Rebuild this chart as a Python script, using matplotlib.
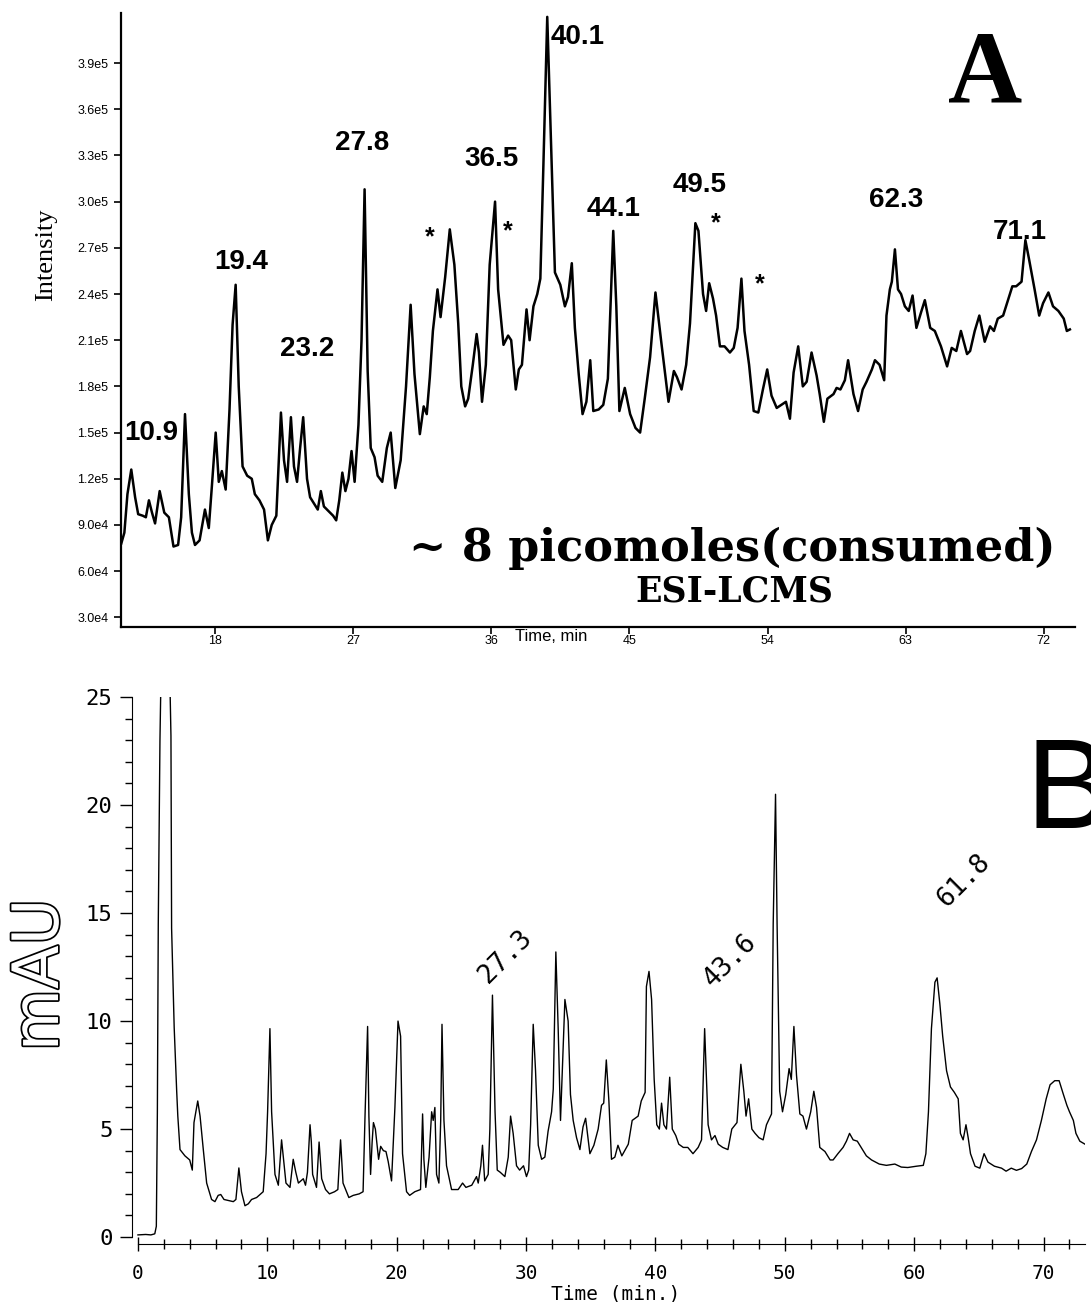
import matplotlib.pyplot as plt
import matplotlib.patheffects as pe
from matplotlib.ticker import MultipleLocator

# --- A: ESI-LCMS total ion current ---
a_time = [11.9, 12.1, 12.3, 12.55, 12.8, 13.0, 13.3, 13.5, 13.7, 13.9, 14.1, 14.4, 14.7, 15.0,
          15.3, 15.6, 15.8, 16.05, 16.3, 16.5, 16.7, 17.0, 17.35, 17.6, 17.8, 18.05, 18.25, 18.45,
          18.7, 18.95, 19.15, 19.35, 19.55, 19.8, 20.1, 20.4, 20.6, 20.9, 21.2, 21.45, 21.7, 22.0,
          22.3, 22.5, 22.7, 22.95, 23.15, 23.35, 23.55, 23.75, 24.0, 24.2, 24.45, 24.7, 24.9, 25.1,
          25.4, 25.7, 25.9, 26.1, 26.3, 26.5, 26.7, 26.9, 27.1, 27.35, 27.55, 27.75, 27.95, 28.15,
          28.4, 28.6, 28.9, 29.2, 29.45, 29.75, 30.1, 30.45, 30.75, 31.0, 31.35, 31.6, 31.8, 32.0,
          32.2, 32.5, 32.7, 33.0, 33.3, 33.6, 33.85, 34.05, 34.3, 34.5, 34.8, 35.05, 35.2, 35.4,
          35.65, 35.9, 36.25, 36.45, 36.8, 37.1, 37.3, 37.6, 37.8, 38.0, 38.3, 38.5, 38.75, 39.0,
          39.2, 39.4, 39.65, 39.9, 40.15, 40.5, 40.8, 41.0, 41.25, 41.45, 41.7, 41.95, 42.2, 42.45,
          42.65, 43.0, 43.3, 43.6, 43.95, 44.15, 44.35, 44.7, 45.05, 45.4, 45.7, 46.0, 46.35, 46.7,
          47.1, 47.55, 47.9, 48.1, 48.4, 48.7, 48.95, 49.3, 49.5, 49.8, 50.0, 50.2, 50.45, 50.65,
          50.9, 51.2, 51.55, 51.8, 52.05, 52.3, 52.5, 52.8, 53.1, 53.4, 53.7, 53.98, 54.26, 54.6,
          54.9, 55.2, 55.46, 55.7, 56.0, 56.3, 56.55, 56.87, 57.2, 57.4, 57.67, 57.9, 58.3, 58.5,
          58.75, 59.04, 59.25, 59.6, 59.9, 60.2, 60.45, 60.8, 61.0, 61.3, 61.6, 61.75, 61.97, 62.1,
          62.3, 62.5, 62.7, 62.95, 63.2, 63.45, 63.7, 64.0, 64.25, 64.6, 64.9, 65.3, 65.7, 66.0,
          66.3, 66.6, 67.0, 67.2, 67.5, 67.8, 68.15, 68.5, 68.75, 69.0, 69.35, 69.7, 69.95, 70.2,
          70.55, 70.8, 71.05, 71.4, 71.7, 71.95, 72.3, 72.6, 72.95, 73.3, 73.5, 73.7]
a_intensity_k = [78, 85, 110, 126, 108, 97, 96, 95, 106, 98, 91, 112, 98, 95,
                 76, 77, 95, 162, 110, 85, 77, 80, 100, 88, 115, 150, 118, 125,
                 113, 165, 220, 246, 180, 128, 122, 120, 110, 106, 100, 80, 90, 96,
                 163, 132, 118, 160, 128, 118, 140, 160, 120, 108, 104, 100, 112, 102,
                 99, 96, 93, 106, 124, 112, 120, 138, 118, 155, 210, 308, 190, 140,
                 134, 122, 118, 140, 150, 114, 132, 180, 233, 188, 149, 167, 162, 186,
                 216, 243, 225, 251, 282, 259, 221, 180, 167, 172, 194, 214, 202, 170,
                 194, 259, 300, 243, 207, 213, 210, 178, 191, 194, 230, 210, 232, 240,
                 250, 324, 420, 338, 254, 246, 232, 238, 260, 218, 188, 162, 170, 197,
                 164, 165, 168, 185, 281, 232, 164, 179, 162, 153, 150, 172, 199, 241,
                 207, 170, 190, 186, 178, 194, 221, 286, 281, 240, 229, 247, 237, 226,
                 206, 206, 202, 205, 218, 250, 216, 194, 164, 163, 178, 191, 174, 166,
                 168, 170, 159, 189, 206, 180, 183, 202, 187, 175, 157, 172, 175, 179,
                 178, 184, 197, 175, 164, 178, 183, 191, 197, 194, 184, 226, 243, 248,
                 269, 243, 240, 232, 229, 239, 218, 228, 236, 218, 216, 206, 193, 205,
                 203, 216, 201, 203, 216, 226, 209, 219, 216, 224, 226, 237, 245, 245,
                 248, 275, 262, 243, 226, 234, 241, 232, 229, 224, 216, 217]
a_intensity = [v * 1000 for v in a_intensity_k]

a_yticks = [3.0e4, 6.0e4, 9.0e4, 1.2e5, 1.5e5, 1.8e5, 2.1e5, 2.4e5, 2.7e5, 3.0e5, 3.3e5, 3.6e5, 3.9e5]
a_yticklabels = ["3.0e4", "6.0e4", "9.0e4", "1.2e5", "1.5e5", "1.8e5", "2.1e5",
                 "2.4e5", "2.7e5", "3.0e5", "3.3e5", "3.6e5", "3.9e5"]
a_xticks = [18, 27, 36, 45, 54, 63, 72]

a_labels = ["10.9", "19.4", "23.2", "27.8", "36.5", "40.1", "44.1", "49.5", "62.3", "71.1"]
a_label_t = [13.85, 19.7, 24.0, 27.6, 36.0, 41.65, 44.0, 49.6, 62.4, 70.45]
a_label_v = [150e3, 261e3, 204e3, 338e3, 328e3, 407e3, 295e3, 311e3, 301e3, 280e3]

a_star_t = [32.0, 37.1, 50.6, 53.5]
a_star_v = [277e3, 281e3, 286e3, 246e3]

# --- B: UV trace ---
b_time = [0.0, 0.6, 1.0, 1.3, 1.42, 1.5, 1.57, 1.7, 1.78, 2.1, 2.46, 2.55, 2.6, 2.8, 2.99, 3.08,
          3.25, 3.63, 4.0, 4.2, 4.33, 4.62, 4.8, 5.05, 5.31, 5.69, 5.95, 6.2, 6.4, 6.65, 7.37,
          7.57, 7.8, 8.0, 8.27, 8.53, 8.78, 9.17, 9.68, 9.9, 10.02, 10.2, 10.33, 10.59, 10.85,
          11.1, 11.2, 11.44, 11.75, 12.0, 12.2, 12.4, 12.78, 12.95, 13.1, 13.3, 13.4, 13.5, 13.8,
          14.0, 14.2, 14.5, 14.8, 15.2, 15.45, 15.66, 15.85, 16.3, 16.64, 17.1, 17.4, 17.55,
          17.75, 17.85, 17.98, 18.1, 18.2, 18.35, 18.6, 18.76, 18.97, 19.17, 19.34, 19.6, 19.86,
          20.1, 20.3, 20.45, 20.76, 21.0, 21.4, 21.84, 22.0, 22.1, 22.25, 22.5, 22.7, 22.82,
          22.95, 23.08, 23.26, 23.4, 23.5, 23.65, 23.85, 24.24, 24.75, 25.09, 25.35, 25.8, 26.17,
          26.3, 26.5, 26.63, 26.8, 27.07, 27.2, 27.4, 27.6, 27.77, 28.0, 28.36, 28.62, 28.8, 29.0,
          29.26, 29.5, 29.8, 30.03, 30.2, 30.35, 30.55, 30.73, 30.94, 31.2, 31.45, 31.7, 31.97,
          32.1, 32.3, 32.48, 32.66, 32.8, 33.0, 33.25, 33.43, 33.64, 33.9, 34.16, 34.4, 34.6,
          34.93, 35.24, 35.57, 35.83, 36.0, 36.2, 36.4, 36.6, 36.86, 37.1, 37.4, 37.9, 38.2,
          38.66, 38.9, 39.2, 39.3, 39.5, 39.7, 39.9, 40.1, 40.3, 40.47, 40.65, 40.85, 41.1, 41.3,
          41.57, 41.8, 42.15, 42.5, 42.9, 43.3, 43.56, 43.8, 44.07, 44.33, 44.6, 44.85, 45.2,
          45.6, 45.9, 46.3, 46.6, 46.83, 47.0, 47.2, 47.45, 47.7, 48.0, 48.32, 48.58, 48.97,
          49.1, 49.28, 49.4, 49.6, 49.82, 50.07, 50.33, 50.5, 50.7, 50.9, 51.16, 51.4, 51.67,
          52.0, 52.24, 52.45, 52.7, 53.1, 53.5, 53.73, 54.1, 54.5, 54.76, 55.0, 55.28, 55.6,
          55.9, 56.3, 56.7, 57.3, 57.85, 58.5, 59.0, 59.5, 60.17, 60.7, 60.9, 61.1, 61.33, 61.6,
          61.77, 61.98, 62.2, 62.5, 62.8, 63.1, 63.4, 63.57, 63.78, 64.0, 64.17, 64.35, 64.7,
          65.07, 65.4, 65.7, 66.2, 66.75, 67.1, 67.5, 67.9, 68.3, 68.7, 69.06, 69.45, 69.83,
          70.2, 70.5, 70.86, 71.2, 71.5, 71.8, 72.0, 72.3, 72.5, 72.8, 73.2]
b_mau = [0.1, 0.12, 0.1, 0.15, 0.5, 5.8, 14.5, 23.0, 26.0, 45.0, 26.0, 23.2, 14.3, 9.7, 6.8, 5.6,
         4.05, 3.76, 3.57, 3.1, 5.3, 6.3, 5.6, 4.05, 2.5, 1.74, 1.64, 1.93, 1.97, 1.74, 1.64,
         1.74, 3.2, 2.1, 1.45, 1.54, 1.74, 1.83, 2.1, 3.86, 5.8, 9.65, 5.8, 2.9, 2.4,
         4.5, 3.9, 2.5, 2.3, 3.6, 3.0, 2.5, 2.7, 2.4, 3.0, 5.2, 4.4, 2.9, 2.3,
         4.4, 2.7, 2.2, 2.0, 2.1, 2.2, 4.5, 2.5, 1.83, 1.93, 2.0, 2.1, 5.6,
         9.75, 5.6, 2.9, 4.4, 5.3, 5.0, 3.6, 4.2, 4.0, 3.96, 3.5, 2.6, 6.0,
         10.0, 9.3, 3.86, 2.1, 1.93, 2.1, 2.2, 5.7, 3.6, 2.3, 3.7, 5.8, 5.4,
         6.0, 2.9, 2.5, 5.4, 9.85, 5.4, 3.3, 2.2, 2.2, 2.5, 2.3, 2.4, 2.8,
         2.5, 3.3, 4.25, 2.6, 2.9, 5.0, 11.2, 5.8, 3.1, 3.0, 2.8, 3.7, 5.6, 4.8,
         3.3, 3.1, 3.3, 2.8, 3.1, 5.2, 9.85, 7.7, 4.25, 3.6, 3.7, 4.9, 5.8,
         6.85, 13.2, 9.65, 5.4, 7.7, 11.0, 10.0, 6.6, 5.4, 4.6, 4.05, 5.1, 5.5,
         3.86, 4.25, 5.0, 6.1, 6.2, 8.2, 6.3, 3.6, 3.7, 4.25, 3.76, 4.3, 5.4,
         5.6, 6.3, 6.7, 11.6, 12.3, 11.0, 7.3, 5.2, 5.0, 6.2, 5.2, 5.0, 7.4, 5.0,
         4.7, 4.3, 4.15, 4.15, 3.86, 4.15, 4.5, 9.65, 5.2, 4.5, 4.7, 4.3, 4.15,
         4.05, 5.0, 5.3, 8.0, 6.75, 5.6, 6.4, 5.0, 4.8, 4.6, 4.5, 5.2, 5.7,
         14.5, 20.5, 14.5, 6.75, 5.8, 6.6, 7.8, 7.3, 9.75, 7.5, 5.7, 5.6, 5.0,
         5.8, 6.75, 6.0, 4.15, 3.96, 3.57, 3.57, 3.86, 4.15, 4.44, 4.8, 4.5, 4.44,
         4.15, 3.76, 3.57, 3.38, 3.32, 3.38, 3.24, 3.22, 3.28, 3.32, 3.86, 5.8, 9.65, 11.8,
         12.0, 10.8, 9.3, 7.7, 6.95, 6.7, 6.4, 4.8, 4.5, 5.2, 4.6, 3.86, 3.28,
         3.19, 3.86, 3.47, 3.28, 3.19, 3.05, 3.19, 3.09, 3.17, 3.38, 3.96, 4.5, 5.4,
         6.4, 7.05, 7.24, 7.24, 6.66, 6.1, 5.8, 5.4, 4.8, 4.44, 4.3]

b_labels = ["27.3", "43.6", "61.8"]
b_label_t = [28.4, 45.8, 63.8]
b_label_v = [13.0, 12.8, 16.5]

fig = plt.figure(figsize=(10.91, 13.02), dpi=100)

# ---------- panel A ----------
ax = fig.add_axes([0.1109, 0.5184, 0.8744, 0.4716])
ax.plot(a_time, a_intensity, color="black", lw=1.8)
ax.set_xlim(11.88, 74.03)
ax.set_ylim(23.7e3, 422.5e3)
for s in ["top", "right"]:
    ax.spines[s].set_visible(False)
ax.spines["left"].set_linewidth(1.6)
ax.spines["bottom"].set_linewidth(1.6)
ax.set_yticks(a_yticks)
ax.set_yticklabels(a_yticklabels, fontsize=9, family="Liberation Sans")
ax.set_xticks(a_xticks)
ax.set_xticklabels([str(x) for x in a_xticks], fontsize=9, family="Liberation Sans")
ax.tick_params(axis="y", direction="out", length=5, width=1.2, pad=4)
ax.tick_params(axis="x", direction="out", length=5, width=1.2, pad=1)
ax.set_ylabel("Intensity", family="Liberation Serif", fontsize=19)
ax.yaxis.set_label_coords(-0.067, 0.606)
ax.text(39.9, -0.016, "Time, min", transform=ax.get_xaxis_transform(),
        ha="center", va="center", fontsize=12, family="Liberation Sans")

for lab, t, v in zip(a_labels, a_label_t, a_label_v):
    ax.text(t, v, lab, ha="center", va="center", fontsize=20,
            fontweight="bold", family="Liberation Sans")
for t, v in zip(a_star_t, a_star_v):
    ax.text(t, v, "*", ha="center", va="center", fontsize=18,
            fontweight="bold", family="Liberation Sans")

ax.text(0.641, 0.128, "~ 8 picomoles(consumed)", transform=ax.transAxes,
        ha="center", va="center", fontsize=32, fontweight="bold", family="DejaVu Serif")
ax.text(0.643, 0.058, "ESI-LCMS", transform=ax.transAxes,
        ha="center", va="center", fontsize=25, fontweight="bold", family="DejaVu Serif")
fig.text(985 / 1091, 1 - 77 / 1302, "A", ha="center", va="center", fontsize=74,
         fontweight="bold", family="Liberation Serif")

# ---------- panel B ----------
bx = fig.add_axes([0.121, 0.0449, 0.8735, 0.4197])
bx.plot(b_time, b_mau, color="black", lw=1.0)
bx.set_xlim(-0.46, 73.2)
bx.set_ylim(-0.3, 25)
for s in ["top", "right"]:
    bx.spines[s].set_visible(False)
bx.spines["left"].set_bounds(0, 25)
bx.spines["bottom"].set_bounds(0, 73.2)
bx.xaxis.set_major_locator(MultipleLocator(10))
bx.xaxis.set_minor_locator(MultipleLocator(2))
bx.yaxis.set_major_locator(MultipleLocator(5))
bx.yaxis.set_minor_locator(MultipleLocator(1))
bx.tick_params(axis="y", which="major", direction="out", length=9, width=1.0, pad=5)
bx.tick_params(axis="y", which="minor", direction="out", length=5, width=1.0)
bx.tick_params(axis="x", which="major", direction="inout", length=10, width=1.0, pad=10)
bx.tick_params(axis="x", which="minor", direction="inout", length=7, width=1.0)
for lab in bx.get_yticklabels():
    lab.set_family("DejaVu Sans Mono")
    lab.set_fontsize(16)
for lab in bx.get_xticklabels():
    lab.set_family("DejaVu Sans Mono")
    lab.set_fontsize(14)
bx.text(0.507, -0.092, "Time (min.)", transform=bx.transAxes, ha="center", va="center",
        fontsize=14, family="DejaVu Sans Mono")

for lab, t, v in zip(b_labels, b_label_t, b_label_v):
    bx.text(t, v, lab, ha="center", va="center", rotation=45, fontsize=19,
            family="DejaVu Sans Mono")

fig.text(40 / 1091, 1 - 975 / 1302, "mAU", rotation=90, ha="center", va="center",
         fontsize=46, family="DejaVu Sans", color="white",
         path_effects=[pe.withStroke(linewidth=2.5, foreground="black")])
fig.text(1026 / 1091, 1 - 795 / 1302, "B", ha="left", va="center", fontsize=92,
         family="Liberation Sans")

fig.savefig("out.png", dpi=100)
